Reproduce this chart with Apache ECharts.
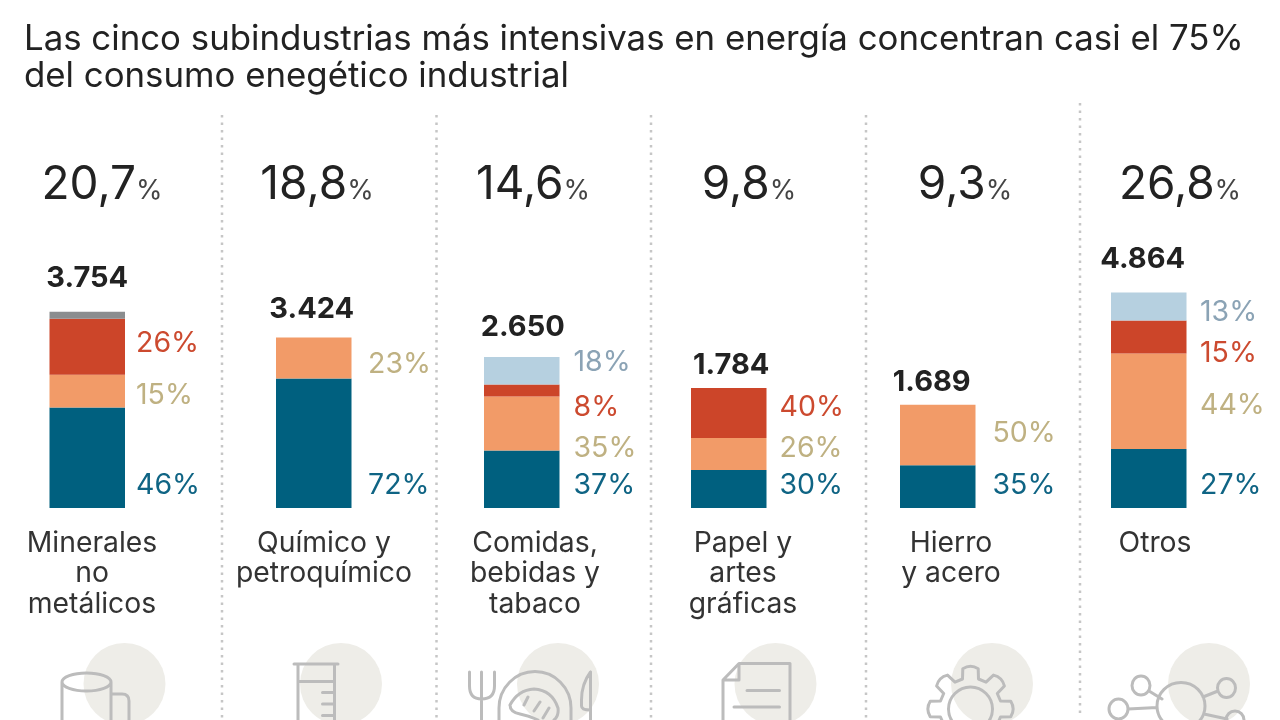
<!DOCTYPE html>
<html>
<head>
<meta charset="utf-8">
<title>Consumo energético industrial</title>
<script src="https://cdn.jsdelivr.net/npm/echarts@6/dist/echarts.min.js"></script>
<style>
  html, body { margin: 0; padding: 0; background: #fff; }
  #chart { width: 1280px; height: 720px; }
</style>
</head>
<body>
<div id="chart"></div>
<script>
const titleText = "Las cinco subindustrias más intensivas en energía concentran casi el 75%\ndel consumo enegético industrial";

// datos
const categories = [
  ["Minerales", "no", "metálicos"],
  ["Químico y", "petroquímico"],
  ["Comidas,", "bebidas y", "tabaco"],
  ["Papel y", "artes", "gráficas"],
  ["Hierro", "y acero"],
  ["Otros"],
];
const shareLabels = ["20,7", "18,8", "14,6", "9,8", "9,3", "26,8"];
const totalLabels = ["3.754", "3.424", "2.650", "1.784", "1.689", "4.864"];

// largo de cada tramo tal como se dibuja, en la escala de la barra mas alta (4.864)
const azul = [2266, 2918, 1294, 855, 961, 1328];
const naranja = [736, 923, 1215, 720, 1364, 2153];
const rojo = [1260, 0, 270, 1125, 0, 743];
const celeste = [0, 0, 623, 0, 0, 630];
const gris = [158, 0, 0, 0, 0, 0];

const azulPct = ["46%", "72%", "37%", "30%", "35%", "27%"];
const naranjaPct = ["15%", "23%", "35%", "26%", "50%", "44%"];
const rojoPct = ["26%", null, "8%", "40%", null, "15%"];
const celestePct = [null, null, "18%", null, null, "13%"];

const segments = [
  { values: azul, pct: azulPct, pctY: [485, 485, 485, 485, 485, 485], color: "#00607f", text: "#0f6484" },
  { values: naranja, pct: naranjaPct, pctY: [395, 364, 448, 448, 433, 405], color: "#f29b68", text: "#bfb182" },
  { values: rojo, pct: rojoPct, pctY: [343, null, 407, 407, null, 353], color: "#cc4529", text: "#cc4a2f" },
  { values: celeste, pct: celestePct, pctY: [null, null, 362, null, null, 312], color: "#b6d0e0", text: "#8ba3b5" },
  { values: gris, pct: gris.map(() => null), pctY: gris.map(() => null), color: "#8b8d8f", text: "#8b8d8f" },
];

// maquetacion
const FONT = "Inter";
const BOTTOM = 508;
const PLOT_H = 222;
const AXIS_MAX = 5000;
const barLeft = [49.5, 276, 484, 691, 900, 1111];
const BAR_W = 75.5;
const pctGap = [11, 16.5, 14, 13, 17, 13.5];
const totalY = [278, 309, 327, 365, 382, 259];
const totalDx = [0, -2, 1, 2.5, -6, -6];
const shareX = [102, 317, 533, 749, 965, 1180];
const catX = [92, 324, 535, 743, 951, 1155];
const catY = [543, 573.5, 604];
const dividers = [[222, 115], [436.5, 115], [651, 115], [866, 115], [1080, 103]];
const circleX = [124.5, 341, 558, 775.5, 992, 1209];

const icons = [
  // jarra
  "M62 720V682 A24.5 9 0 0 1 111 682 V720 M62 682 A24.5 9 0 0 0 111 682 M111 694H122 Q129 694 129 701V720",
  // probeta
  "M294 664H338 M298 664V720 M334.5 664V720 M298 681.5H334.5 M322.5 692.5H334.5 M322.5 704H334.5 M322.5 715.5H334.5",
  // plato y cubiertos
  "M469.5 672V686 Q469.5 699 481.5 699 Q494.5 699 494.5 686V672 M481.5 672V720 " +
    "M499 708 A36 36.5 0 0 1 571 708 V720 M499 708 V720 " +
    "M510 705 Q518 690 534 689 Q552 690 558 708 Q559 716 554 720 M510 705 Q510 712 520 714 Q530 716 538 720 " +
    "M528 697L524 705 M540 702L534 711 M549 708L543 718 " +
    "M590.5 672V720 M590.5 672 Q581.5 684 581.5 700V706 Q581.5 710 590.5 710",
  // papel
  "M723 720V680L739 663.5H790V720 M739 663.5V680H723 M747 690.5H779.5 M734 707H779.5",
  // engranaje: se genera aparte
  "",
  // red
  "M1157 706 A24 23.5 0 0 1 1205 706 A24 23.5 0 0 1 1157 706 " +
    "M1132 685.5 A9 9.5 0 1 1 1150 685.5 A9 9.5 0 1 1 1132 685.5 " +
    "M1217.5 688 A9 9.5 0 1 1 1235.5 688 A9 9.5 0 1 1 1217.5 688 " +
    "M1109 709 A9.5 10 0 1 1 1128 709 A9.5 10 0 1 1 1109 709 " +
    "M1226 720 A9 9 0 0 1 1244 720 " +
    "M1149 691L1162 699 M1203 697L1218 691 M1128 709L1157 707.5 M1204 714L1227 719",
];

function gearPath(cx, cy) {
  const tip = 41, base = 31;
  const pt = (a, r) => (cx + r * Math.cos(a)).toFixed(1) + " " + (cy + r * Math.sin(a)).toFixed(1);
  let d = "";
  for (let k = 0; k < 8; k++) {
    const a = (k * Math.PI) / 4 - Math.PI / 2;
    d += (k ? "L" : "M") + pt(a - 0.26, base);
    d += " L" + pt(a - 0.19, tip) + " Q" + pt(a, tip + 4) + " " + pt(a + 0.19, tip);
    d += " L" + pt(a + 0.26, base) + " ";
  }
  d += `Z M${cx - 22} ${cy} A22 22 0 1 1 ${cx + 22} ${cy} A22 22 0 1 1 ${cx - 22} ${cy}`;
  return d;
}
icons[4] = gearPath(970.5, 709);

// graphic no acepta pathData directo: se registra cada icono como forma
icons.forEach((d, i) => {
  echarts.graphic.registerShape("icono" + i, echarts.graphic.extendPath(d, {}));
});

const scale = PLOT_H / AXIS_MAX;

// cada panel es un grid con su propia barra apilada
const grids = [], xAxes = [], yAxes = [], series = [];
categories.forEach((cat, i) => {
  grids.push({ left: barLeft[i], width: BAR_W, top: BOTTOM - PLOT_H, height: PLOT_H });
  xAxes.push({ type: "category", gridIndex: i, data: [cat.join(" ")], show: false });
  yAxes.push({ type: "value", gridIndex: i, min: 0, max: AXIS_MAX, show: false });

  let below = 0;
  segments.forEach((seg, s) => {
    const v = seg.values[i];
    if (!v) return;
    const dy = seg.pct[i] ? seg.pctY[i] - (BOTTOM - (below + v / 2) * scale) : 0;
    series.push({
      type: "bar",
      name: cat.join(" ") + " " + s,
      xAxisIndex: i,
      yAxisIndex: i,
      stack: "p" + i,
      barWidth: "100%",
      silent: true,
      animation: false,
      itemStyle: { color: seg.color },
      data: [v],
      label: {
        show: !!seg.pct[i],
        position: "right",
        distance: pctGap[i],
        offset: [0, dy],
        formatter: seg.pct[i] || "",
        color: seg.text,
        fontFamily: FONT,
        fontSize: 28.5,
      },
    });
    below += v;
  });

  // total sobre la barra
  series.push({
    type: "bar",
    name: cat.join(" ") + " total",
    xAxisIndex: i,
    yAxisIndex: i,
    stack: "p" + i,
    barWidth: "100%",
    silent: true,
    animation: false,
    itemStyle: { color: "transparent" },
    data: [0],
    label: {
      show: true,
      position: "inside",
      offset: [totalDx[i], totalY[i] - (BOTTOM - below * scale)],
      formatter: totalLabels[i],
      color: "#222",
      fontFamily: FONT,
      fontWeight: "bold",
      fontSize: 29,
    },
  });
});

const graphic = [];
dividers.forEach(([x, y0]) => {
  graphic.push({
    type: "line",
    silent: true,
    shape: { x1: x, y1: y0, x2: x, y2: x === 1080 ? 715 : 720 },
    style: { stroke: "#c6c6c6", lineWidth: 2.5, lineDash: [2.5, 5] },
  });
});
circleX.forEach((x) => {
  graphic.push({
    type: "circle",
    silent: true,
    shape: { cx: x, cy: 684, r: 41 },
    style: { fill: "#eeede8" },
  });
});
icons.forEach((d, i) => {
  graphic.push({
    type: "icono" + i,
    silent: true,
    style: { fill: null, stroke: "#bcbcbc", lineWidth: 3, lineJoin: "round", lineCap: "round" },
  });
});
shareLabels.forEach((t, i) => {
  graphic.push({
    type: "text",
    silent: true,
    x: shareX[i],
    y: 185,
    style: {
      text: `{n|${t}}{p|%}`,
      align: "center",
      verticalAlign: "middle",
      rich: {
        n: { fontFamily: FONT, fontWeight: 400, fontSize: 46, fill: "#222" },
        p: { fontFamily: FONT, fontWeight: 400, fontSize: 27, fill: "#444", padding: [12, 0, 0, 0] },
      },
    },
  });
});
categories.forEach((lines, i) => {
  lines.forEach((t, j) => {
    graphic.push({
      type: "text",
      silent: true,
      x: catX[i],
      y: catY[j],
      style: {
        text: t,
        align: "center",
        verticalAlign: "middle",
        fontFamily: FONT,
        fontWeight: 400,
        fontSize: 28.3,
        fill: "#333",
      },
    });
  });
});

const chart = echarts.init(document.getElementById("chart"));
chart.setOption({
  animation: false,
  backgroundColor: "#fff",
  title: {
    text: titleText,
    left: 24,
    top: 21,
    padding: 0,
    textStyle: {
      fontFamily: FONT,
      fontWeight: 400,
      fontSize: 34.8,
      lineHeight: 37,
      color: "#222",
    },
  },
  grid: grids,
  xAxis: xAxes,
  yAxis: yAxes,
  series,
  graphic,
});
</script>
</body>
</html>
